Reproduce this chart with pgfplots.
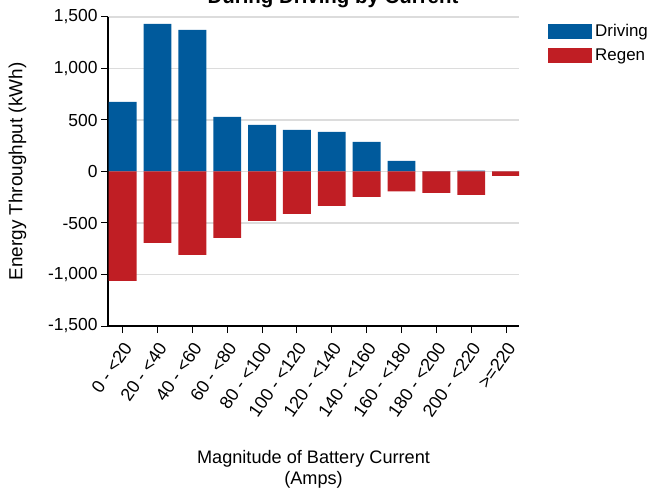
\documentclass[border=0pt]{standalone}
\usepackage{fontspec}
\setmainfont{Liberation Sans}
\usepackage{pgfplots}
\pgfplotsset{compat=1.18}
\definecolor{drv}{RGB}{0,90,156}
\definecolor{rgn}{RGB}{192,30,36}
\definecolor{grd}{RGB}{220,220,220}
\pgfplotsset{myleg/.style={legend image code/.code={\fill[##1] (0bp,-7.5bp) rectangle (44bp,7.5bp);}}}
\begin{document}
\begin{tikzpicture}
\begin{axis}[
  at={(108bp,167bp)}, anchor=south west,
  scale only axis, width=411bp, height=309bp,
  xmin=-0.42, xmax=11.37, ymin=-1500, ymax=1500,
  ytick={-1500,-1000,...,1500},
  xtick={0,...,11},
  xticklabels={0 - <20, 20 - <40, 40 - <60, 60 - <80, 80 - <100, 100 - <120, 120 - <140, 140 - <160, 160 - <180, 180 - <200, 200 - <220, >=220},
  axis x line*=bottom, axis y line*=left,
  axis line style={-, black, line width=1.3bp},
  tick align=outside, major tick length=7bp,
  tick style={black, line width=1bp},
  ymajorgrids, major grid style={grd, line width=1.6bp},
  /pgf/number format/assume math mode=true,
  /pgf/number format/1000 sep={,},
  yticklabel style={font=\fontsize{17.5}{20}\selectfont},
  xticklabel style={font=\fontsize{18}{21}\selectfont, rotate=55, anchor=north east, xshift=-3bp, yshift=-1bp},
  ylabel={Energy Throughput (kWh)},
  ylabel style={at={(axis description cs:-0.22,0.5)}, anchor=center, rotate=0, font=\fontsize{19}{22}\selectfont},
  xlabel={Magnitude of Battery Current\\(Amps)},
  xlabel style={at={(axis description cs:0.5,-0.464)}, anchor=center, align=center, font=\fontsize{18.2}{21}\selectfont},
  legend style={at={(axis description cs:1.0706,0.987)}, anchor=north west, draw=none, fill=none, inner sep=0pt,
    font=\fontsize{17}{20}\selectfont, row sep=5bp, nodes={inner sep=3bp}},
  legend cell align=left,
]
\addplot[ybar, bar width=0.8, bar shift=0pt, fill=drv, draw=none, myleg] coordinates {
 (0,676) (1,1434) (2,1376) (3,531) (4,453) (5,405) (6,385) (7,288) (8,104) (9,3) (10,8) (11,0)};
\addlegendentry{Driving}
\addplot[ybar, bar width=0.8, bar shift=0pt, fill=rgn, draw=none, myleg] coordinates {
 (0,-1061) (1,-692) (2,-809) (3,-644) (4,-479) (5,-411) (6,-333) (7,-246) (8,-194) (9,-207) (10,-226) (11,-43)};
\addlegendentry{Regen}
\end{axis}
\node[anchor=base, font=\bfseries\fontsize{20.5}{24}\selectfont] at (333bp,489.5bp) {During Driving by Current};
\pgfresetboundingbox
\path (0,0) rectangle (650bp,493bp);
\end{tikzpicture}
\end{document}
